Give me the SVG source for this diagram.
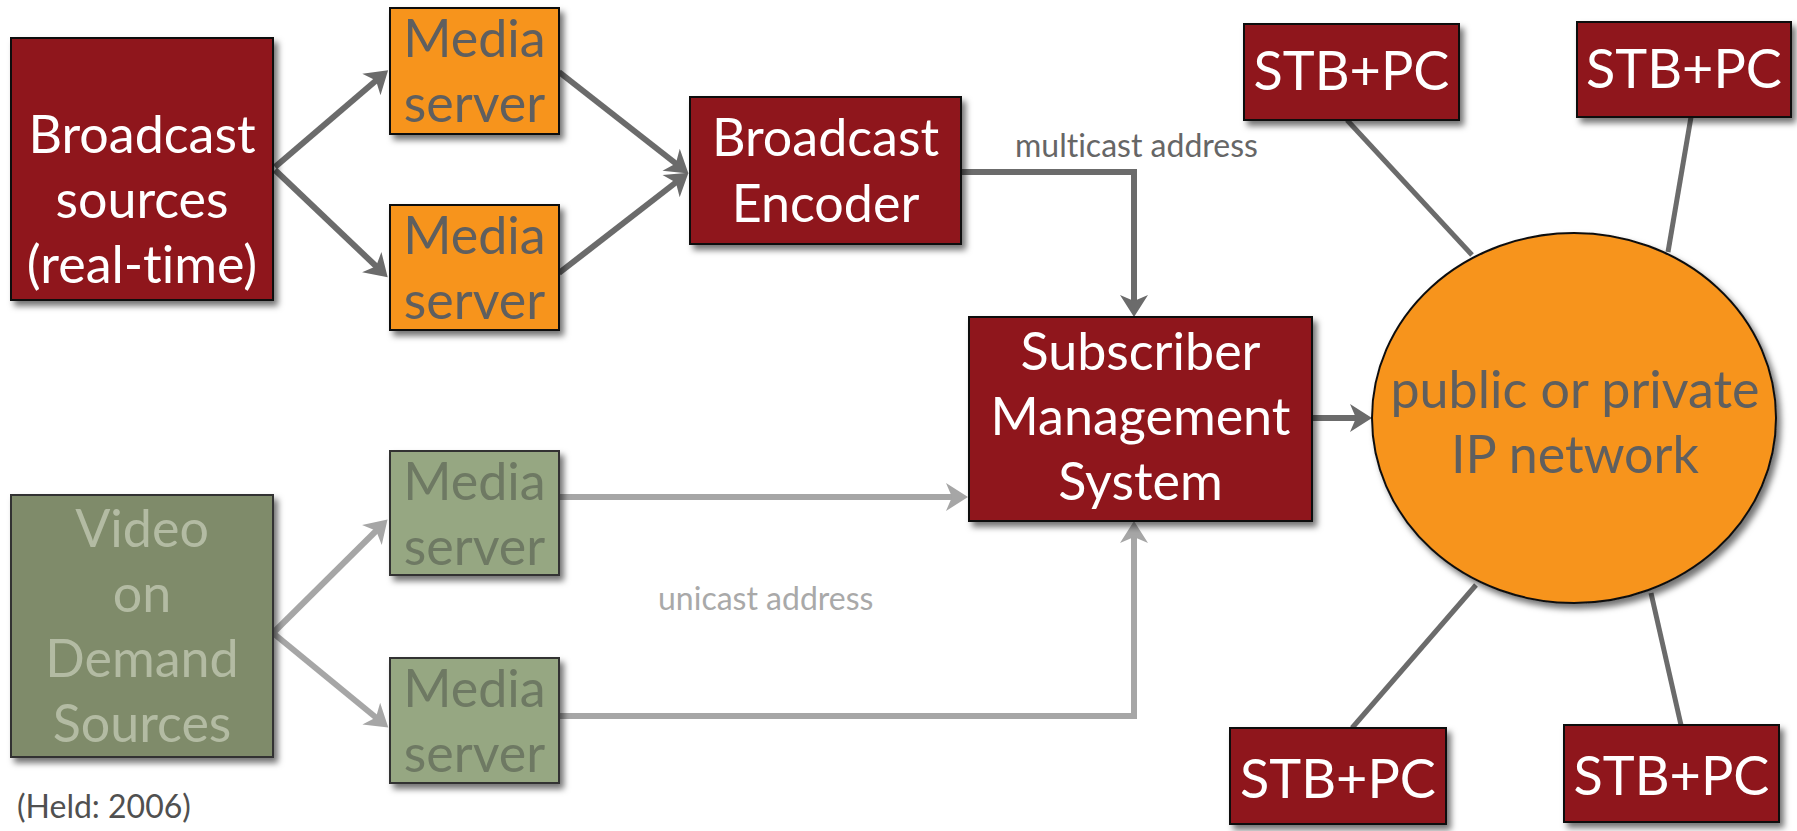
<svg xmlns="http://www.w3.org/2000/svg" width="1797" height="831" viewBox="0 0 1797 831">
  <style>
    text { font-variant-ligatures: none; }
    .lbl { font-family: Lato, "Liberation Sans", sans-serif; font-size: 52px; text-anchor: middle; }
    .stb { font-size: 54px; }
    .red { fill: #8f191d; stroke: #111; stroke-width: 2; }
    .org { fill: #f7941e; stroke: #111; stroke-width: 2; }
    .vod { fill: #7f8b6b; stroke: #333; stroke-width: 2; }
    .vms { fill: #96a782; stroke: #333; stroke-width: 2; }
    .wt { fill: #ffffff; }
    .gt { fill: #5f5f5f; }
    .vt { fill: #b3bba3; }
    .vmt { fill: #6e7963; }
    .note { font-family: Lato, "Liberation Sans", sans-serif; font-size: 32px; }
    .dark { stroke: #6b6b6b; stroke-width: 6; fill: none; }
    .light { stroke: #a6a6a6; stroke-width: 6; fill: none; }
    .spoke { stroke: #6b6b6b; stroke-width: 5; fill: none; }
  </style>
  <defs>
    <filter id="shadow" x="-10%" y="-10%" width="130%" height="130%">
      <feDropShadow dx="4" dy="5" stdDeviation="3" flood-color="#000" flood-opacity="0.55"/>
    </filter>
    <marker id="arrDark" markerUnits="userSpaceOnUse" markerWidth="40" markerHeight="40" refX="0" refY="0" viewBox="-20 -20 40 40" orient="auto" overflow="visible">
      <path d="M12,0 L-10,-14 L-4,0 L-10,14 Z" fill="#6b6b6b"/>
    </marker>
    <marker id="arrLight" markerUnits="userSpaceOnUse" markerWidth="40" markerHeight="40" refX="0" refY="0" viewBox="-20 -20 40 40" orient="auto" overflow="visible">
      <path d="M12,0 L-10,-14 L-4,0 L-10,14 Z" fill="#a6a6a6"/>
    </marker>
  </defs>

  <rect width="1797" height="831" fill="#ffffff"/>

  <!-- connectors -->
  <g id="connectors">
    <path class="dark" d="M275,167 L379,78" marker-end="url(#arrDark)"/>
    <path class="dark" d="M275,170 L379,269" marker-end="url(#arrDark)"/>
    <path class="dark" d="M559,72 L679,166" marker-end="url(#arrDark)"/>
    <path class="dark" d="M559,273 L679,180" marker-end="url(#arrDark)"/>
    <path class="dark" d="M961,172 H1134 V305" marker-end="url(#arrDark)"/>
    <path class="dark" d="M1312,418 H1360" marker-end="url(#arrDark)"/>
    <path class="spoke" d="M1347,120 L1472,255"/>
    <path class="spoke" d="M1691,117 L1668,252"/>
    <path class="spoke" d="M1476,585 L1352,728"/>
    <path class="spoke" d="M1651,593 L1681,725"/>
    <path class="light" d="M273,633 L379,528" marker-end="url(#arrLight)"/>
    <path class="light" d="M273,633 L379,720" marker-end="url(#arrLight)"/>
    <path class="light" d="M559,497 H956" marker-end="url(#arrLight)"/>
    <path class="light" d="M559,716 H1134 V533" marker-end="url(#arrLight)"/>
    <text class="note" x="1015" y="157" fill="#666666">multicast address</text>
    <text class="note" x="658" y="610" fill="#a9a9a9">unicast address</text>
  </g>

  <g id="broadcast-sources">
    <rect class="red" x="11" y="38" width="262" height="262" filter="url(#shadow)"/>
    <text class="lbl wt" x="142" y="153">Broadcast</text>
    <text class="lbl wt" x="142" y="218">sources</text>
    <text class="lbl wt" x="142" y="283">(real-time)</text>
  </g>

  <g id="media-server-1">
    <rect class="org" x="390" y="8" width="169" height="126" filter="url(#shadow)"/>
    <text class="lbl gt" x="474.5" y="57">Media</text>
    <text class="lbl gt" x="474.5" y="122">server</text>
  </g>

  <g id="media-server-2">
    <rect class="org" x="390" y="205" width="169" height="125" filter="url(#shadow)"/>
    <text class="lbl gt" x="474.5" y="254">Media</text>
    <text class="lbl gt" x="474.5" y="319">server</text>
  </g>

  <g id="broadcast-encoder">
    <rect class="red" x="690" y="97" width="271" height="147" filter="url(#shadow)"/>
    <text class="lbl wt" x="825.5" y="156">Broadcast</text>
    <text class="lbl wt" x="825.5" y="222">Encoder</text>
  </g>

  <g id="subscriber-management">
    <rect class="red" x="969" y="317" width="343" height="204" filter="url(#shadow)"/>
    <text class="lbl wt" x="1140.5" y="370">Subscriber</text>
    <text class="lbl wt" x="1140.5" y="435">Management</text>
    <text class="lbl wt" x="1140.5" y="500">System</text>
  </g>

  <g id="ip-network">
    <ellipse class="org" cx="1574" cy="418" rx="202" ry="185" filter="url(#shadow)"/>
    <text class="lbl gt" x="1575" y="408">public or private</text>
    <text class="lbl gt" x="1575" y="473">IP network</text>
  </g>

  <g id="stb-1">
    <rect class="red" x="1244" y="24" width="215" height="96" filter="url(#shadow)"/>
    <text class="lbl stb wt" x="1351.5" y="90">STB+PC</text>
  </g>
  <g id="stb-2">
    <rect class="red" x="1577" y="22" width="214" height="95" filter="url(#shadow)"/>
    <text class="lbl stb wt" x="1684" y="88">STB+PC</text>
  </g>
  <g id="stb-3">
    <rect class="red" x="1230" y="728" width="216" height="96" filter="url(#shadow)"/>
    <text class="lbl stb wt" x="1338" y="798">STB+PC</text>
  </g>
  <g id="stb-4">
    <rect class="red" x="1564" y="725" width="215" height="97" filter="url(#shadow)"/>
    <text class="lbl stb wt" x="1671.5" y="795">STB+PC</text>
  </g>

  <g id="vod-sources">
    <rect class="vod" x="11" y="495" width="262" height="262" filter="url(#shadow)"/>
    <text class="lbl vt" x="142" y="547">Video</text>
    <text class="lbl vt" x="142" y="612">on</text>
    <text class="lbl vt" x="142" y="677">Demand</text>
    <text class="lbl vt" x="142" y="742">Sources</text>
  </g>

  <g id="media-server-3">
    <rect class="vms" x="390" y="451" width="169" height="124" filter="url(#shadow)"/>
    <text class="lbl vmt" x="474.5" y="500">Media</text>
    <text class="lbl vmt" x="474.5" y="565">server</text>
  </g>

  <g id="media-server-4">
    <rect class="vms" x="390" y="658" width="169" height="125" filter="url(#shadow)"/>
    <text class="lbl vmt" x="474.5" y="707">Media</text>
    <text class="lbl vmt" x="474.5" y="772">server</text>
  </g>

  <text id="citation" class="note" x="17" y="818" fill="#505050">(Held: 2006)</text>
</svg>
